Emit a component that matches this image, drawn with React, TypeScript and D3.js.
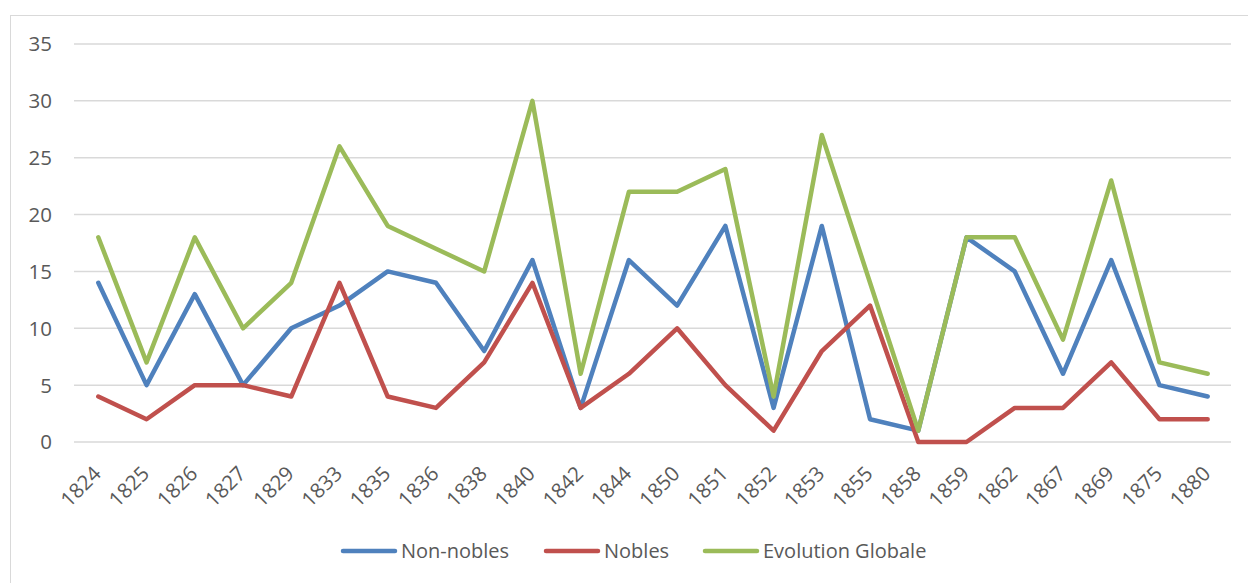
import React from "react";
import * as d3 from "d3";

const years = ["1824","1825","1826","1827","1829","1833","1835","1836","1838","1840","1842","1844","1850","1851","1852","1853","1855","1858","1859","1862","1867","1869","1875","1880"];
const nonNobles = [14,5,13,5,10,12,15,14,8,16,3,16,12,19,3,19,2,1,18,15,6,16,5,4];
const nobles = [4,2,5,5,4,14,4,3,7,14,3,6,10,5,1,8,12,0,0,3,3,7,2,2];
const globale = [18,7,18,10,14,26,19,17,15,30,6,22,22,24,4,27,14,1,18,18,9,23,7,6];
const yTicks = [0,5,10,15,20,25,30,35];

const series = [
  { name: "Non-nobles", values: nonNobles, color: "#4F81BD" },
  { name: "Nobles", values: nobles, color: "#C0504D" },
  { name: "Evolution Globale", values: globale, color: "#9BBB59" },
];

const legendX = [343, 546, 705];

export default function App() {
  const W = 1248, H = 583;
  const x = d3.scaleBand<string>().domain(years).range([74.2, 1231.8]);
  const y = d3.scaleLinear().domain([0, 35]).range([442, 44]);
  const line = d3.line<number>()
    .x((_, i) => (x(years[i]) as number) + x.bandwidth() / 2)
    .y((d) => y(d));
  const font = "'Open Sans', 'Noto Sans', sans-serif";
  return (
    <svg width={W} height={H} style={{ position: "absolute", left: 0, top: 0 }}>
      <rect x={0} y={0} width={W} height={H} fill="#fff" />
      <rect x={10.5} y={15.5} width={W + 20} height={H + 20} fill="none" stroke="#D9D9D9" strokeWidth={1} />
      {yTicks.map((t) => (
        <g key={t}>
          <line x1={74} x2={1231} y1={y(t)} y2={y(t)} stroke="#D9D9D9" strokeWidth={1.5} />
          <text x={52} y={y(t)} dy="0.36em" textAnchor="end" fontFamily={font} fontSize={20.5} fill="#595959">{t}</text>
        </g>
      ))}
      {years.map((yr) => {
        const cx = (x(yr) as number) + x.bandwidth() / 2;
        return (
          <text key={yr} transform={`translate(${cx + 4},${475}) rotate(-45)`} textAnchor="end" fontFamily={font} fontSize={20.5} fill="#595959">{yr}</text>
        );
      })}
      {series.map((s) => (
        <path key={s.name} d={line(s.values) || ""} fill="none" stroke={s.color} strokeWidth={4.5} strokeLinejoin="round" strokeLinecap="round" />
      ))}
      {series.map((s, i) => (
        <g key={s.name}>
          <line x1={legendX[i]} x2={legendX[i] + 52} y1={551} y2={551} stroke={s.color} strokeWidth={4.5} strokeLinecap="round" />
          <text x={legendX[i] + 58} y={551} dy="0.36em" fontFamily={font} fontSize={20} fill="#595959">{s.name}</text>
        </g>
      ))}
    </svg>
  );
}
